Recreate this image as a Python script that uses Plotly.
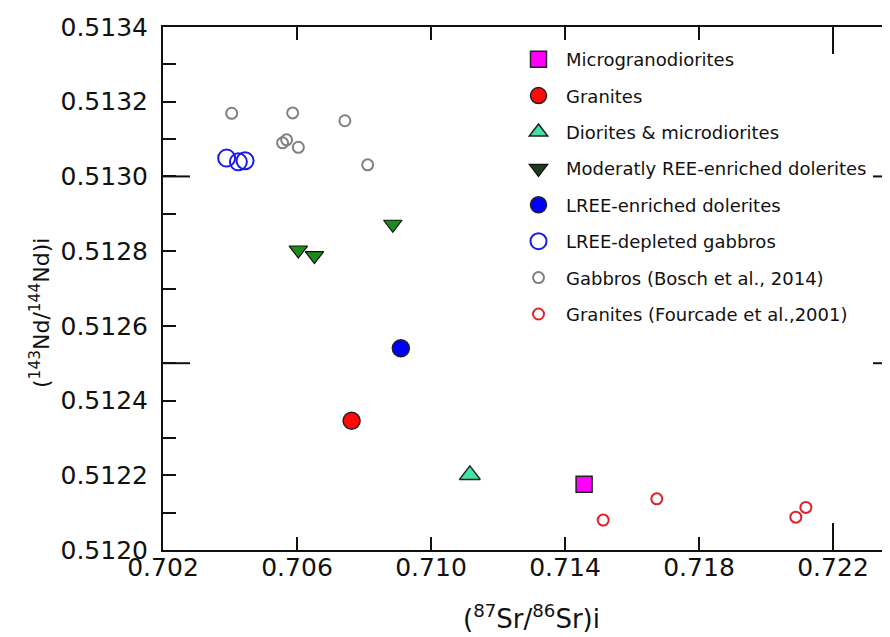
import plotly.graph_objects as go

# initial isotope ratios: (87Sr/86Sr)i and (143Nd/144Nd)i
micro_sr = [0.71457]
micro_nd = [0.512176]

gran_sr = [0.70763]
gran_nd = [0.512346]

dior_sr = [0.71116]
dior_nd = [0.512201]

mod_sr = [0.70604, 0.70652, 0.70886]
mod_nd = [0.512803, 0.512788, 0.512872]

enr_sr = [0.70910]
enr_nd = [0.51254]

dep_sr = [0.70390, 0.70425, 0.70445]
dep_nd = [0.513049, 0.513039, 0.513042]

bosch_sr = [0.70405, 0.70587, 0.70743, 0.70557, 0.70569, 0.70604, 0.70811]
bosch_nd = [0.513169, 0.513170, 0.513149, 0.513090, 0.513098, 0.513078, 0.513031]

fourc_sr = [0.71514, 0.71674, 0.72089, 0.72119]
fourc_nd = [0.512080, 0.512137, 0.512088, 0.512114]

# axis set-up
x_range = [0.702, 0.7240]
y_range = [0.5120, 0.5134]
long_x_ticks = [0.722]
long_y_ticks = [0.5125, 0.5130]

FONT = "DejaVu Sans"
# page body has an 8px margin, so the figure is laid out 8px up/left of the target
W, H = 892, 629
M_L, M_R, M_T, M_B = 155, 0, 19, 87
plot_w = W - M_L - M_R
plot_h = H - M_T - M_B

fig = go.Figure()

def add(name, xs, ys, symbol, size, color, line_color, line_w, group, legend_color=None):
    # legend_color: the legend swatch is drawn darker than the points for one series
    fig.add_trace(go.Scatter(
        x=xs, y=ys, mode="markers", name=name, legendgroup=group,
        showlegend=legend_color is None,
        marker=dict(symbol=symbol, size=size, color=color,
                    line=dict(color=line_color, width=line_w)),
    ))
    if legend_color is not None:
        fig.add_trace(go.Scatter(
            x=[None], y=[None], mode="markers", name=name, legendgroup=group,
            marker=dict(symbol=symbol, size=size, color=legend_color,
                        line=dict(color=line_color, width=line_w)),
        ))

add("Microgranodiorites", micro_sr, micro_nd, "square", 16, "#ff00ff", "#222222", 1.5, "a")
add("Granites", gran_sr, gran_nd, "circle", 17, "#ff0a0a", "#222222", 1.5, "b")
add("Diorites &amp; microdiorites", dior_sr, dior_nd, "triangle-up", 18, "#44e0a4", "#222222", 1.5, "c")
add("Moderatly REE-enriched dolerites", mod_sr, mod_nd, "triangle-down", 16, "#1c8c1c", "#111111", 1.2, "d",
    legend_color="#1d3b1d")
add("LREE-enriched dolerites", enr_sr, enr_nd, "circle", 17, "#0000ff", "#222222", 1.5, "e")
add("LREE-depleted gabbros", dep_sr, dep_nd, "circle-open", 17, "#1a1aee", "#1a1aee", 2, "f")
add("Gabbros (Bosch et al., 2014)", bosch_sr, bosch_nd, "circle-open", 11, "#808080", "#808080", 2, "g")
add("Granites (Fourcade et al.,2001)", fourc_sr, fourc_nd, "circle-open", 11, "#e0202a", "#e0202a", 2, "h")

shapes = []
for xv in long_x_ticks:
    shapes.append(dict(type="line", xref="x", yref="y domain", x0=xv, x1=xv,
                       y0=0, y1=27 / plot_h, line=dict(color="#111", width=2)))
    shapes.append(dict(type="line", xref="x", yref="y domain", x0=xv, x1=xv,
                       y0=1, y1=1 - 27 / plot_h, line=dict(color="#111", width=2)))
for yv in long_y_ticks:
    shapes.append(dict(type="line", xref="x domain", yref="y", x0=0, x1=27 / plot_w,
                       y0=yv, y1=yv, line=dict(color="#111", width=2)))
    shapes.append(dict(type="line", xref="x domain", yref="y", x0=1, x1=1 - 27 / plot_w,
                       y0=yv, y1=yv, line=dict(color="#111", width=2)))

fig.update_layout(
    width=W, height=H,
    margin=dict(l=M_L, r=M_R, t=M_T, b=M_B, autoexpand=False),
    paper_bgcolor="white", plot_bgcolor="white",
    font=dict(family=FONT, color="#111"),
    showlegend=True,
    legend=dict(x=(503 - M_L) / plot_w, y=1 - (33 - M_T) / plot_h,
                xanchor="left", yanchor="top", bgcolor="rgba(0,0,0,0)",
                font=dict(family=FONT, size=18, color="#111"),
                tracegroupgap=10, itemwidth=45),
    shapes=shapes,
    annotations=[dict(
        text="(<sup>143</sup>Nd/<sup>144</sup>Nd)i", textangle=-90,
        xref="paper", yref="paper", x=(32 - M_L) / plot_w, y=1 - (305 - M_T) / plot_h,
        xanchor="center", yanchor="middle", showarrow=False,
        font=dict(family=FONT, size=22, color="#111"),
    )],
    xaxis=dict(
        range=x_range, tick0=0.702, dtick=0.004, tickformat=".3f",
        ticks="inside", ticklen=13, tickwidth=2, tickcolor="#111",
        showline=True, linewidth=2, linecolor="#111", mirror="allticks",
        showgrid=False, zeroline=False,
        ticklabelstandoff=-6,
        tickfont=dict(family=FONT, size=25, color="#111"),
        title=dict(text="(<sup>87</sup>Sr/<sup>86</sup>Sr)i", standoff=29,
                   font=dict(family=FONT, size=26, color="#111")),
    ),
    yaxis=dict(
        range=y_range, tick0=0.5120, dtick=0.0002, tickformat=".4f",
        ticks="inside", ticklen=13, tickwidth=2, tickcolor="#111",
        minor=dict(dtick=0.0001, ticks="inside", ticklen=13, tickwidth=2, tickcolor="#111"),
        showline=True, linewidth=2, linecolor="#111", mirror="allticks",
        showgrid=False, zeroline=False,
        ticklabelstandoff=8,
        tickfont=dict(family=FONT, size=25, color="#111"),
    ),
)

fig.write_html("out.html")
